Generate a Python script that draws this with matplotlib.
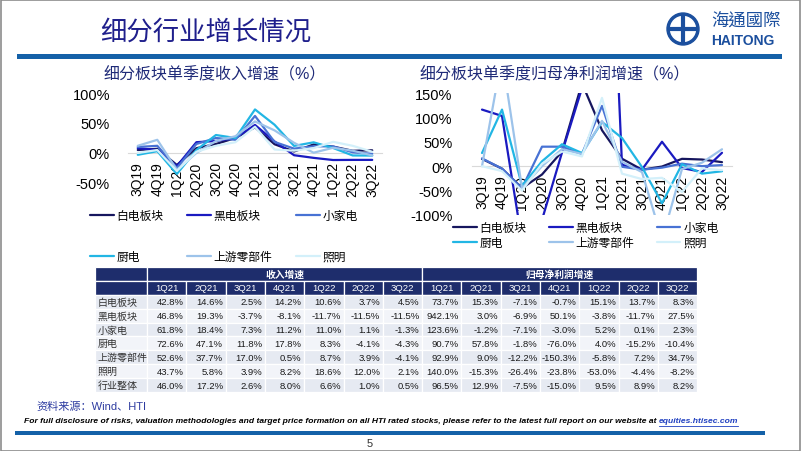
import numpy as np
import matplotlib
matplotlib.use('Agg')
import matplotlib.pyplot as plt
from matplotlib.patches import Rectangle, Circle
from matplotlib.lines import Line2D

plt.rcParams['font.family'] = ['Liberation Sans', 'Noto Sans CJK SC', 'DejaVu Sans']

W, H = 802, 452

quarters = ['3Q19', '4Q19', '1Q20', '2Q20', '3Q20', '4Q20',
            '1Q21', '2Q21', '3Q21', '4Q21', '1Q22', '2Q22', '3Q22']
table_quarters = ['1Q21', '2Q21', '3Q21', '4Q21', '1Q22', '2Q22', '3Q22']
series_names = ['白电板块', '黑电板块', '小家电', '厨电', '上游零部件', '照明']
table_rows = series_names + ['行业整体']
series_colors = ['#16165E', '#1A1AC0', '#4872D4', '#22B6E4', '#9DC3EA', '#D3F0FA']

# table values (1Q21-3Q22)
rev_growth = [
    [42.8, 14.6, 2.5, 14.2, 10.6, 3.7, 4.5],
    [46.8, 19.3, -3.7, -8.1, -11.7, -11.5, -11.5],
    [61.8, 18.4, 7.3, 11.2, 11.0, 1.1, -1.3],
    [72.6, 47.1, 11.8, 17.8, 8.3, -4.1, -4.3],
    [52.6, 37.7, 17.0, 0.5, 8.7, 3.9, -4.1],
    [43.7, 5.8, 3.9, 8.2, 18.6, 12.0, 2.1],
    [46.0, 17.2, 2.6, 8.0, 6.6, 1.0, 0.5],
]
profit_growth = [
    [73.7, 15.3, -7.1, -0.7, 15.1, 13.7, 8.3],
    [942.1, 3.0, -6.9, 50.1, -3.8, -11.7, 27.5],
    [123.6, -1.2, -7.1, -3.0, 5.2, 0.1, 2.3],
    [90.7, 57.8, -1.8, -76.0, 4.0, -15.2, -10.4],
    [92.9, 9.0, -12.2, -150.3, -5.8, 7.2, 34.7],
    [140.0, -15.3, -26.4, -23.8, -53.0, -4.4, -8.2],
    [96.5, 12.9, -7.5, -15.0, 9.5, 8.9, 8.2],
]

# 3Q19-4Q20
rev_early = [
    [5, 7, -20, 8, 15, 25],
    [8, 5, -22, 18, 20, 25],
    [10, 12, -25, 15, 25, 22],
    [-3, 3, -35, 5, 30, 25],
    [12, 22, -28, 0, 20, 28],
    [0, 5, -30, 2, 12, 18],
]
profit_early = [
    [15, -5, -45, -17, 30, 170],
    [116, 103, -154, -110, 28, 160],
    [16, -5, -45, 40, 40, 25],
    [27, 116, -40, 10, 45, 27],
    [0, 225, -45, 0, 35, 25],
    [0, -10, -50, 5, 30, 20],
]

fig = plt.figure(figsize=(W / 100, H / 100), dpi=100)
fig.patch.set_facecolor('white')


def fx(x):
    return x / W


def fy(y):
    return 1 - y / H


# slide frame, header
fig.add_artist(Rectangle((0.001, 0.001), 0.997, 0.997, transform=fig.transFigure,
                         fill=False, edgecolor='#8C8C8C', lw=1.2))
fig.text(fx(100), fy(32), '细分行业增长情况', fontsize=19, color='#1F1F8C',
         va='center', ha='left', family=['Noto Sans CJK SC'], fontweight='light')
fig.add_artist(Rectangle((fx(17), fy(60)), fx(782) - fx(17), 5 / H,
                         transform=fig.transFigure, color='#1461A8', lw=0))

# logo
ax_logo = fig.add_axes([fx(666), fy(47), 34 / W, 34 / H])
ax_logo.set_xlim(0, 34)
ax_logo.set_ylim(0, 34)
ax_logo.axis('off')
ax_logo.add_patch(Circle((17, 17), 16, color='#1B4F9E'))
ax_logo.add_patch(Circle((17, 17), 12.5, color='white'))
ax_logo.plot([17, 17], [5, 29], color='#1B4F9E', lw=3)
ax_logo.plot([5, 29], [17, 17], color='#1B4F9E', lw=3)
ax_logo.add_patch(Circle((17, 17), 4, color='white'))
fig.text(fx(711), fy(22), '海通國際', fontsize=12.5, color='#1B4F9E', va='center',
         ha='left', family=['Noto Sans CJK TC'])
fig.text(fx(711), fy(41), 'HAITONG', fontsize=10, color='#1B4F9E', va='center',
         ha='left', fontweight='bold')


def line_chart(rect, early, table, ylim, yticks, title, title_xy, ypad, legend_xy,
               legend_spacing, col_spacing):
    ax = fig.add_axes(rect)
    for s in ['top', 'right', 'left']:
        ax.spines[s].set_visible(False)
    ax.spines['bottom'].set_position(('data', 0))
    ax.spines['bottom'].set_color('#D9D9D9')
    ax.spines['bottom'].set_zorder(0)
    x = np.arange(len(quarters))
    for name, color, e, t in zip(series_names, series_colors, early, table):
        ax.plot(x, e + t, color=color, lw=1.6, label=name, solid_capstyle='round')
    ax.set_xlim(-0.5, len(quarters) - 0.5)
    ax.set_ylim(*ylim)
    ax.set_yticks(yticks)
    ax.set_yticklabels([f'{v}%' for v in yticks], fontsize=10.5)
    ax.set_xticks(x)
    ax.set_xticklabels(quarters, rotation=90, fontsize=10)
    ax.tick_params(axis='both', length=0, colors='#000000')
    ax.tick_params(axis='y', pad=ypad)
    ax.tick_params(axis='x', pad=6)
    ax.set_facecolor('none')
    fig.text(title_xy[0], title_xy[1], title, fontsize=11.5, color='#1F2A78',
             va='center', ha='left', fontweight='light')
    h, l = ax.get_legend_handles_labels()
    order = [0, 3, 1, 4, 2, 5]
    ax.legend([h[i] for i in order], [l[i] for i in order], ncol=3, frameon=False,
              loc='upper left', bbox_to_anchor=legend_xy, bbox_transform=fig.transFigure,
              fontsize=8.5, handlelength=2.0, handletextpad=0.25,
              labelspacing=legend_spacing, columnspacing=col_spacing,
              borderpad=0, borderaxespad=0)
    return ax


line_chart([fx(128), fy(184), (382 - 128) / W, (184 - 94) / H], rev_early, rev_growth,
           (-50, 100), [-50, 0, 50, 100], '细分板块单季度收入增速（%）',
           (fx(104), fy(75)), 13, (fx(90), fy(211)), 2.45, 2.0)
line_chart([fx(472), fy(216), (732 - 472) / W, (216 - 94) / H], profit_early, profit_growth,
           (-100, 150), [-100, -50, 0, 50, 100, 150], '细分板块单季度归母净利润增速（%）',
           (fx(420), fy(75)), 14, (fx(453), fy(223)), 0.25, 1.9)

# table
col_w = [52] + [39.3] * 14
edges = np.concatenate([[0], np.cumsum(col_w)])
n_rows = 2 + len(table_rows)
ax_t = fig.add_axes([fx(95), fy(393), edges[-1] / W, (393 - 268) / H])
ax_t.set_xlim(0, edges[-1])
ax_t.set_ylim(n_rows, 0)
ax_t.axis('off')
navy = '#1E2D6C'
row_bg = ['#E6EAF2', '#F2F4F9']


def cell(c0, c1, r, color):
    ax_t.add_patch(Rectangle((edges[c0], r), edges[c1] - edges[c0], 1,
                             facecolor=color, edgecolor='white', lw=0.9))


cell(0, 1, 0, navy)
cell(1, 8, 0, navy)
cell(8, 15, 0, navy)
ax_t.text((edges[1] + edges[8]) / 2, 0.5, '收入增速', color='white', fontsize=7,
          ha='center', va='center', fontweight='bold')
ax_t.text((edges[8] + edges[15]) / 2, 0.5, '归母净利润增速', color='white', fontsize=7,
          ha='center', va='center', fontweight='bold')
cell(0, 1, 1, navy)
for j, q in enumerate(table_quarters * 2):
    cell(j + 1, j + 2, 1, navy)
    ax_t.text((edges[j + 1] + edges[j + 2]) / 2, 1.5, q, color='white', fontsize=6.8,
              ha='center', va='center')
for i, name in enumerate(table_rows):
    r = i + 2
    bg = row_bg[i % 2]
    cell(0, 1, r, bg)
    ax_t.text(edges[0] + 3, r + 0.5, name, fontsize=7.2, ha='left', va='center',
              color='#333333')
    for j, v in enumerate(rev_growth[i] + profit_growth[i]):
        cell(j + 1, j + 2, r, bg)
        ax_t.text(edges[j + 2] - 2.5, r + 0.5, f'{v:.1f}%', fontsize=6.8, ha='right',
                  va='center', color='#1A1A1A')

# footer
fig.text(fx(36), fy(407), '资料来源：Wind、HTI', fontsize=8, color='#2E3CA0',
         va='center', ha='left')
disc = fig.text(fx(24), fy(422), 'For full disclosure of risks, valuation methodologies and target '
                'price formation on all HTI rated stocks, please refer to the latest full report '
                'on our website at ', fontsize=6.1, fontstyle='italic', fontweight='bold',
                va='center', ha='left')
fig.canvas.draw()
bb = disc.get_window_extent(fig.canvas.get_renderer())
link = fig.text(bb.x1 / W, fy(422), 'equities.htisec.com', fontsize=6.1, fontstyle='italic',
                fontweight='bold', color='#1F3FC0', va='center', ha='left')
lb = link.get_window_extent(fig.canvas.get_renderer())
fig.add_artist(Line2D([lb.x0 / W, lb.x1 / W], [fy(427), fy(427)], color='#1F3FC0', lw=0.6,
                      transform=fig.transFigure))
fig.add_artist(Rectangle((fx(15), fy(436)), fx(765) - fx(15), 4 / H,
                         transform=fig.transFigure, color='#1461A8', lw=0))
fig.text(fx(370), fy(444), '5', fontsize=8, color='#333333', va='center', ha='center')

fig.savefig('out.png', dpi=100)
